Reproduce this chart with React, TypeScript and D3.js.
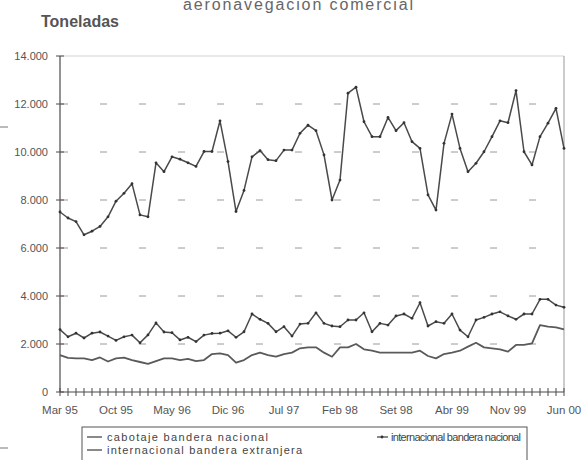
import React from 'react';
import * as d3 from 'd3';

const months: string[] = d3.range(64).map(i => {
    const d = new Date(1995, 2 + i, 1);
    return `${d.getFullYear()}-${d.getMonth() + 1}`;
});

const tickLabels = ['Mar 95', 'Oct 95', 'May 96', 'Dic 96', 'Jul 97', 'Feb 98', 'Set 98', 'Abr 99', 'Nov 99', 'Jun 00'];
const yTicks = [0, 2000, 4000, 6000, 8000, 10000, 12000, 14000];
const yTickLabels = ['0', '2.000', '4.000', '6.000', '8.000', '10.000', '12.000', '14.000'];

// internacional bandera extranjera (top)
const extranjera = [
    7500, 7250, 7100, 6550, 6700, 6900, 7300, 7950, 8280, 8680,
    7380, 7300, 9550, 9180, 9800, 9700, 9550, 9400, 10020, 10020,
    11300, 9600, 7520, 8400, 9800, 10060, 9680, 9640, 10080, 10080,
    10780, 11120, 10890, 9880, 8000, 8830, 12450, 12700, 11260, 10640,
    10640, 11440, 10890, 11220, 10430, 10150, 8210, 7580, 10360, 11580,
    10150, 9180, 9530, 10010, 10640, 11300, 11220, 12560, 10010, 9460,
    10640, 11200, 11820, 10150,
];

// internacional bandera nacional (middle)
const intNacional = [
    2600, 2300, 2450, 2250, 2450, 2500, 2330, 2150, 2300, 2370,
    2050, 2380, 2880, 2500, 2470, 2170, 2280, 2100, 2370, 2440,
    2450, 2550, 2280, 2510, 3250, 3030, 2860, 2510, 2720, 2330,
    2830, 2860, 3300, 2860, 2750, 2720, 3000, 3000, 3300, 2510,
    2860, 2790, 3170, 3250, 3070, 3720, 2750, 2930, 2860, 3250,
    2580, 2300, 3000, 3110, 3250, 3340, 3170, 3030, 3250, 3250,
    3860, 3860, 3620, 3530,
];

// cabotaje bandera nacional (bottom)
const cabotaje = [
    1540, 1420, 1400, 1400, 1330, 1440, 1270, 1400, 1430, 1330,
    1250, 1170, 1290, 1400, 1400, 1330, 1380, 1290, 1330, 1580,
    1610, 1540, 1220, 1330, 1540, 1640, 1540, 1470, 1580, 1640,
    1820, 1860, 1860, 1640, 1470, 1860, 1860, 2000, 1780, 1720,
    1640, 1640, 1640, 1640, 1640, 1720, 1500, 1400, 1580, 1640,
    1720, 1890, 2050, 1860, 1820, 1780, 1680, 1960, 1960, 2030,
    2790, 2720, 2690, 2610,
];

const W = 585;
const H = 460;
const margin = { top: 56, right: 21, bottom: 68, left: 60 };
const ink = '#4a4a4a';
const font = 'Liberation Sans, Arial, sans-serif';

const App: React.FC = () => {
    const x = d3.scalePoint<string>()
        .domain(months)
        .range([margin.left, W - margin.right]);

    const y = d3.scaleLinear()
        .domain([0, 14000])
        .range([H - margin.bottom, margin.top]);

    const line = d3.line<number>()
        .x((_, i) => x(months[i]) as number)
        .y(d => y(d));

    const x0 = margin.left;
    const x1 = W - margin.right;
    const yb = y(0);

    return (
        <div style={{ position: 'absolute', left: 0, top: 0 }}>
            <svg width={W} height={H} style={{ display: 'block', background: '#fff' }} fontFamily={font}>
                {/* title, cut at the top of the scan */}
                <text x={298} y={10} textAnchor="middle" fontSize={16} fill="#666" textLength={230}>
                    aeronavegación comercial
                </text>
                <text x={41} y={27} fontSize={16} fontWeight="bold" fill="#555">Toneladas</text>

                {/* frame */}
                <line x1={x0} x2={x1} y1={y(14000)} y2={y(14000)} stroke="#d4d4d4" strokeWidth={1.2} />
                <line x1={x1} x2={x1} y1={y(14000)} y2={yb} stroke="#999" strokeWidth={1} />

                {/* dashed grid */}
                {yTicks.slice(1, -1).map(t => (
                    <line key={'g' + t} x1={x0} x2={x1 - 20} y1={y(t)} y2={y(t)}
                          stroke="#9a9a9a" strokeWidth={1} strokeDasharray="7 32" strokeDashoffset={-1} />
                ))}

                {/* y axis */}
                <line x1={x0} x2={x0} y1={y(14000)} y2={yb} stroke={ink} strokeWidth={1.2} />
                {yTicks.map((t, i) => (
                    <g key={'y' + t}>
                        <line x1={x0 - 4} x2={x0 + 4} y1={y(t)} y2={y(t)} stroke={ink} strokeWidth={1} />
                        <text x={x0 - 12} y={y(t) + 4} textAnchor="end" fontSize={11} fill="#555">
                            {yTickLabels[i]}
                        </text>
                    </g>
                ))}

                {/* x axis */}
                <line x1={x0} x2={x1} y1={yb} y2={yb} stroke={ink} strokeWidth={1.2} />
                {months.map(m => (
                    <line key={'t' + m} x1={x(m)} x2={x(m)} y1={yb - 4} y2={yb + 4} stroke={ink} strokeWidth={1} />
                ))}
                {tickLabels.map((l, i) => (
                    <text key={l} x={x(months[i * 7])} y={yb + 22} textAnchor="middle" fontSize={11.5} fill="#555">
                        {l}
                    </text>
                ))}

                {/* series */}
                <path d={line(cabotaje) ?? ''} fill="none" stroke="#5a5a5a" strokeWidth={1.8} strokeLinejoin="round" />
                <path d={line(intNacional) ?? ''} fill="none" stroke={ink} strokeWidth={1.5} strokeLinejoin="round" />
                <path d={line(extranjera) ?? ''} fill="none" stroke={ink} strokeWidth={1.5} strokeLinejoin="round" />
                {[intNacional, extranjera].map((s, k) => s.map((v, i) => (
                    <circle key={k + '-' + i} cx={x(months[i])} cy={y(v)} r={1.4} fill="#333" />
                )))}

                {/* legend */}
                <rect x={82} y={427} width={445} height={50} fill="#fff" stroke="#555" strokeWidth={1} />
                <line x1={87} x2={102} y1={437} y2={437} stroke={ink} strokeWidth={1.3} />
                <text x={107} y={441} fontSize={11} fill="#444" textLength={161}>cabotaje bandera nacional</text>
                <line x1={87} x2={102} y1={450} y2={450} stroke={ink} strokeWidth={1.3} />
                <text x={107} y={454} fontSize={11} fill="#444" textLength={195}>internacional bandera extranjera</text>
                <line x1={377} x2={388} y1={437} y2={437} stroke={ink} strokeWidth={1.3} />
                <circle cx={382} cy={437} r={1.4} fill="#333" />
                <text x={391} y={441} fontSize={11} fill="#444" textLength={130}>internacional bandera nacional</text>

                {/* scan marks */}
                <line x1={0} x2={8} y1={127} y2={127} stroke="#777" strokeWidth={1} />
                <line x1={0} x2={8} y1={448} y2={448} stroke="#777" strokeWidth={1} />
            </svg>
        </div>
    );
};

export default App;
